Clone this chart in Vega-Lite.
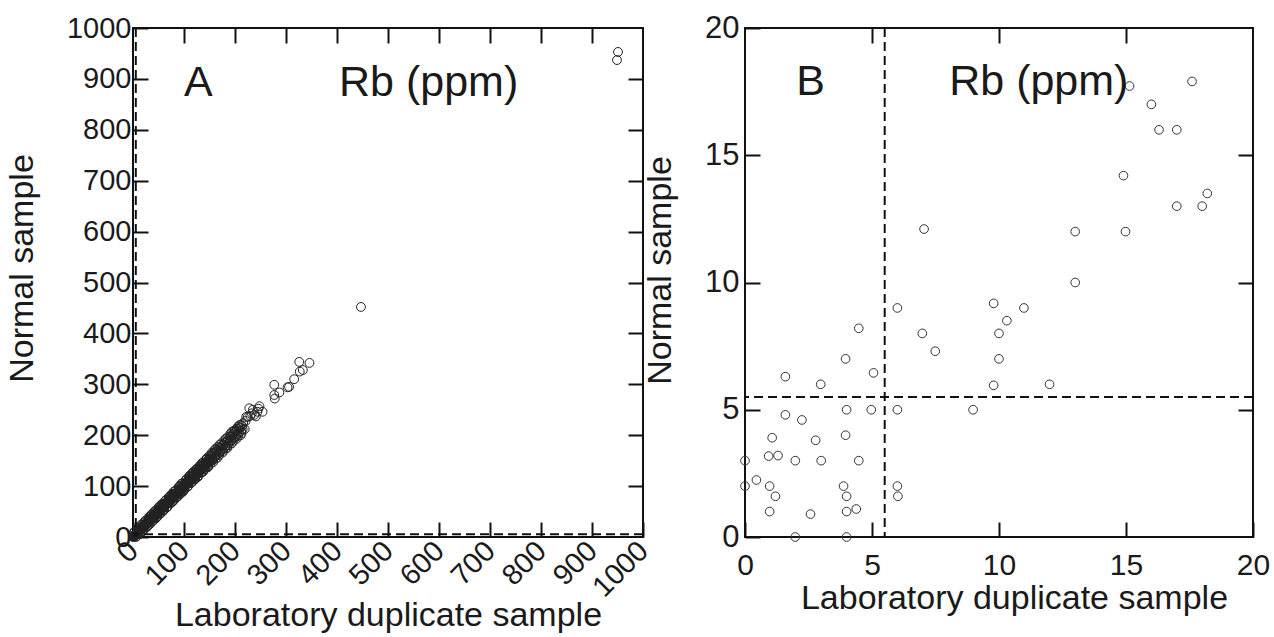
{
  "$schema": "https://vega.github.io/schema/vega-lite/v6.json",
  "background": "white",
  "padding": {"left": 4, "top": 11, "right": 5, "bottom": 2},
  "spacing": 102,
  "bounds": "flush",
  "config": {
    "view": {"stroke": "#111", "strokeWidth": 2},
    "font": "Liberation Sans",
    "axis": {
      "domain": false, "grid": false, "tickColor": "#111", "tickWidth": 2, "tickSize": -15,
      "labelFont": "Liberation Sans", "titleFont": "Liberation Sans", "labelColor": "#1a1a1a", "titleColor": "#1a1a1a",
      "titleFontWeight": "normal", "labelFontSize": 29, "titleFontSize": 34, "labelFlush": false, "labelOverlap": false, "labelBound": false, "format": "d"
    }
  },
  "datasets": {
    "a": [
      {"lab":0,"norm":0},{"lab":0.5,"norm":1},{"lab":1,"norm":0.5},{"lab":1.5,"norm":2},{"lab":2,"norm":1.5},{"lab":2.5,"norm":3},{"lab":3,"norm":2.5},{"lab":3.5,"norm":4},{"lab":4,"norm":3},{"lab":5,"norm":5.5},{"lab":5,"norm":4},{"lab":6,"norm":6.5},{"lab":6.5,"norm":5},{"lab":7,"norm":8},{"lab":8,"norm":7},{"lab":8.5,"norm":9},{"lab":9,"norm":10},{"lab":10,"norm":9},{"lab":10,"norm":11.5},{"lab":11,"norm":10},{"lab":12,"norm":13},{"lab":12.5,"norm":11},{"lab":13,"norm":14},{"lab":14,"norm":13},{"lab":15,"norm":16},{"lab":15.5,"norm":14},{"lab":16,"norm":17},{"lab":17,"norm":15.5},{"lab":18,"norm":19},{"lab":18.5,"norm":17},{"lab":19,"norm":20.5},{"lab":20,"norm":18.5},{"lab":21,"norm":22},{"lab":22,"norm":21},{"lab":23,"norm":24.5},{"lab":23.5,"norm":22},{"lab":24,"norm":25},{"lab":25,"norm":23.5},{"lab":26,"norm":27.5},{"lab":27,"norm":25.5},{"lab":28,"norm":29},{"lab":29,"norm":27.5},{"lab":30,"norm":31.5},{"lab":31,"norm":29},
      {"lab":32,"norm":33},{"lab":33,"norm":35.5},{"lab":34,"norm":32},{"lab":35,"norm":37},{"lab":36,"norm":34},{"lab":37,"norm":39},{"lab":38,"norm":36.5},{"lab":39,"norm":41},{"lab":40,"norm":38},{"lab":41,"norm":43},{"lab":42,"norm":40},{"lab":43,"norm":44},{"lab":44,"norm":46.5},{"lab":45,"norm":43},{"lab":46,"norm":48},{"lab":47,"norm":45},{"lab":48,"norm":50.5},{"lab":49,"norm":47},{"lab":50,"norm":52},{"lab":51,"norm":49},{"lab":52,"norm":54},{"lab":53,"norm":51},{"lab":54,"norm":57},{"lab":55,"norm":53},{"lab":56,"norm":58},{"lab":57,"norm":55},{"lab":58,"norm":61},{"lab":59,"norm":57},{"lab":60,"norm":62},{"lab":61,"norm":59},{"lab":62,"norm":65},{"lab":63,"norm":61},{"lab":64,"norm":66},{"lab":65,"norm":63},{"lab":66,"norm":69},{"lab":67,"norm":65},{"lab":68,"norm":70},{"lab":69,"norm":67},{"lab":70,"norm":73},{"lab":71,"norm":69},{"lab":72,"norm":74},{"lab":73,"norm":71},{"lab":74,"norm":77},{"lab":75,"norm":73},{"lab":76,"norm":78},{"lab":77,"norm":75},{"lab":78,"norm":81},{"lab":79,"norm":77},{"lab":80,"norm":82},{"lab":81,"norm":80},{"lab":82,"norm":85},{"lab":83,"norm":81},{"lab":84,"norm":86},{"lab":85,"norm":83},{"lab":86,"norm":89},{"lab":87,"norm":85},{"lab":88,"norm":90},{"lab":89,"norm":87},{"lab":90,"norm":93},{"lab":91,"norm":89},{"lab":92,"norm":94},{"lab":93,"norm":91},{"lab":94,"norm":97},{"lab":95,"norm":93},{"lab":96,"norm":98},{"lab":97,"norm":95},{"lab":98,"norm":101},{"lab":99,"norm":97},{"lab":100,"norm":102},{"lab":101,"norm":99},{"lab":102,"norm":105},{"lab":103,"norm":101},{"lab":104,"norm":107},{"lab":105,"norm":103},{"lab":106,"norm":109},{"lab":107,"norm":104},{"lab":108,"norm":111},{"lab":109,"norm":107},{"lab":110,"norm":113},{"lab":111,"norm":109},{"lab":112,"norm":114},{"lab":113,"norm":111},{"lab":114,"norm":118},{"lab":115,"norm":113},{"lab":116,"norm":119},{"lab":117,"norm":115},{"lab":118,"norm":122},{"lab":119,"norm":117},{"lab":120,"norm":123},{"lab":121,"norm":119},{"lab":122,"norm":126},{"lab":123,"norm":121},{"lab":124,"norm":127},{"lab":125,"norm":122},{"lab":126,"norm":130},{"lab":127,"norm":125},{"lab":128,"norm":131},{"lab":129,"norm":127},{"lab":130,"norm":134},{"lab":131,"norm":129},{"lab":132,"norm":135},{"lab":133,"norm":131},{"lab":134,"norm":138},{"lab":135,"norm":133},{"lab":136,"norm":140},{"lab":137,"norm":135},{"lab":138,"norm":141},{"lab":139,"norm":137},{"lab":140,"norm":144},{"lab":141,"norm":139},{"lab":142,"norm":145},{"lab":143,"norm":141},{"lab":144,"norm":148},{"lab":145,"norm":143},{"lab":146,"norm":150},{"lab":147,"norm":145},{"lab":148,"norm":152},{"lab":149,"norm":147},{"lab":150,"norm":154},{"lab":151,"norm":149},
      {"lab":20,"norm":27},{"lab":40,"norm":48},{"lab":55,"norm":63},{"lab":70,"norm":78},{"lab":90,"norm":99},{"lab":110,"norm":119},{"lab":60,"norm":53},{"lab":85,"norm":78},{"lab":100,"norm":93},{"lab":120,"norm":113},{"lab":140,"norm":133},{"lab":130,"norm":139},{"lab":115,"norm":124},
      {"lab":10,"norm":17},{"lab":15,"norm":9},{"lab":25,"norm":32},{"lab":30,"norm":23},{"lab":35,"norm":43},{"lab":45,"norm":37},{"lab":50,"norm":58},{"lab":52,"norm":45},{"lab":65,"norm":73},{"lab":66,"norm":58},{"lab":75,"norm":83},{"lab":78,"norm":70},{"lab":80,"norm":89},{"lab":92,"norm":84},{"lab":95,"norm":105},{"lab":98,"norm":89},{"lab":105,"norm":114},{"lab":108,"norm":100},{"lab":118,"norm":128},{"lab":122,"norm":114},{"lab":125,"norm":134},{"lab":128,"norm":120},{"lab":135,"norm":145},{"lab":138,"norm":130},{"lab":145,"norm":155},{"lab":148,"norm":139},{"lab":155,"norm":166},{"lab":157,"norm":147},{"lab":162,"norm":173},{"lab":166,"norm":156},{"lab":170,"norm":181},{"lab":176,"norm":166},{"lab":182,"norm":193},{"lab":185,"norm":175},{"lab":191,"norm":203},{"lab":194,"norm":184},{"lab":197,"norm":208},{"lab":203,"norm":193},{"lab":206,"norm":217},{"lab":211,"norm":200},
      {"lab":3,"norm":9},{"lab":8,"norm":2},{"lab":12,"norm":19},{"lab":18,"norm":11},{"lab":22,"norm":29},{"lab":28,"norm":21},{"lab":33,"norm":40},{"lab":38,"norm":31},{"lab":43,"norm":51},{"lab":48,"norm":41},{"lab":53,"norm":61},{"lab":58,"norm":50},{"lab":63,"norm":71},{"lab":68,"norm":60},{"lab":73,"norm":81},{"lab":77,"norm":69},{"lab":83,"norm":91},{"lab":88,"norm":80},{"lab":93,"norm":101},{"lab":97,"norm":90},{"lab":103,"norm":111},{"lab":107,"norm":99},{"lab":112,"norm":121},{"lab":117,"norm":109},{"lab":123,"norm":132},{"lab":127,"norm":118},{"lab":133,"norm":142},{"lab":137,"norm":128},{"lab":143,"norm":152},{"lab":147,"norm":137},
      {"lab":2,"norm":10},{"lab":6,"norm":0},{"lab":9,"norm":16},{"lab":13,"norm":6},{"lab":16,"norm":24},{"lab":20,"norm":12},{"lab":24,"norm":32},{"lab":27,"norm":19},{"lab":31,"norm":39},{"lab":34,"norm":26},{"lab":37,"norm":45},{"lab":41,"norm":33},{"lab":44,"norm":52},{"lab":47,"norm":39},{"lab":51,"norm":59},{"lab":54,"norm":46},{"lab":57,"norm":65},{"lab":61,"norm":53},{"lab":64,"norm":72},{"lab":67,"norm":59},{"lab":71,"norm":79},{"lab":74,"norm":66},{"lab":77,"norm":85},{"lab":81,"norm":73},{"lab":84,"norm":92},{"lab":87,"norm":79},{"lab":91,"norm":99},{"lab":94,"norm":86},{"lab":97,"norm":105},{"lab":101,"norm":93},{"lab":104,"norm":112},{"lab":107,"norm":99},{"lab":111,"norm":119},{"lab":114,"norm":106},{"lab":117,"norm":125},{"lab":121,"norm":113},{"lab":124,"norm":132},{"lab":127,"norm":119},{"lab":131,"norm":139},{"lab":134,"norm":126},{"lab":137,"norm":146},{"lab":141,"norm":133},{"lab":144,"norm":153},{"lab":147,"norm":140},{"lab":150,"norm":160},{"lab":152,"norm":144},
      {"lab":154,"norm":163},{"lab":157,"norm":151},{"lab":160,"norm":171},{"lab":162,"norm":154},{"lab":166,"norm":177},{"lab":169,"norm":161},{"lab":173,"norm":184},{"lab":176,"norm":169},{"lab":179,"norm":190},{"lab":182,"norm":174},{"lab":185,"norm":196},{"lab":188,"norm":180},{"lab":191,"norm":198},{"lab":194,"norm":207},{"lab":197,"norm":189},{"lab":200,"norm":210},{"lab":203,"norm":213},{"lab":206,"norm":198},{"lab":209,"norm":220},{"lab":213,"norm":204},{"lab":216,"norm":224},{"lab":219,"norm":212},{"lab":221,"norm":228},{"lab":230,"norm":238},{"lab":235,"norm":250},{"lab":241,"norm":237},{"lab":246,"norm":252},
      {"lab":152,"norm":158},{"lab":153,"norm":150},{"lab":155,"norm":160},{"lab":156,"norm":153},{"lab":158,"norm":163},{"lab":159,"norm":156},{"lab":160,"norm":166},{"lab":161,"norm":158},{"lab":163,"norm":168},{"lab":164,"norm":161},{"lab":165,"norm":170},{"lab":167,"norm":164},{"lab":168,"norm":173},{"lab":170,"norm":167},{"lab":171,"norm":176},{"lab":172,"norm":169},{"lab":174,"norm":179},{"lab":175,"norm":172},{"lab":177,"norm":181},{"lab":178,"norm":175},{"lab":180,"norm":185},{"lab":181,"norm":178},{"lab":183,"norm":188},{"lab":184,"norm":180},{"lab":186,"norm":190},{"lab":187,"norm":184},{"lab":189,"norm":194},{"lab":190,"norm":187},{"lab":192,"norm":197},{"lab":193,"norm":190},{"lab":195,"norm":200},{"lab":196,"norm":193},{"lab":198,"norm":204},{"lab":199,"norm":196},{"lab":201,"norm":207},{"lab":202,"norm":199},{"lab":204,"norm":209},{"lab":205,"norm":202},{"lab":207,"norm":212},{"lab":208,"norm":205},{"lab":210,"norm":215},{"lab":212,"norm":208},{"lab":214,"norm":218},{"lab":215,"norm":212},
      {"lab":212,"norm":220},{"lab":222,"norm":236},{"lab":225,"norm":236},{"lab":228,"norm":253},{"lab":233,"norm":243},{"lab":238,"norm":240},{"lab":244,"norm":246},{"lab":248,"norm":257},{"lab":254,"norm":246},{"lab":277,"norm":299},{"lab":277,"norm":279},{"lab":278,"norm":272},{"lab":287,"norm":284},{"lab":303,"norm":294},{"lab":306,"norm":295},{"lab":316,"norm":310},{"lab":326,"norm":344},{"lab":327,"norm":325},{"lab":333,"norm":328},{"lab":346,"norm":342},{"lab":447,"norm":452},{"lab":951,"norm":953},{"lab":949,"norm":937}
    ],
    "b": [
      {"lab":0,"norm":3.0},{"lab":0,"norm":2.0},{"lab":0.45,"norm":2.24},{"lab":0.97,"norm":2.0},{"lab":1.2,"norm":1.6},{"lab":0.97,"norm":1.0},{"lab":0.93,"norm":3.18},{"lab":1.3,"norm":3.2},{"lab":1.07,"norm":3.9},{"lab":1.59,"norm":4.8},{"lab":2.24,"norm":4.6},{"lab":1.59,"norm":6.3},{"lab":2.98,"norm":6.0},{"lab":1.98,"norm":3.0},{"lab":2.78,"norm":3.8},{"lab":3.0,"norm":3.0},{"lab":2.58,"norm":0.9},{"lab":1.98,"norm":0},{"lab":4.0,"norm":0},{"lab":4.0,"norm":1.0},{"lab":4.38,"norm":1.1},{"lab":4.0,"norm":1.6},{"lab":3.88,"norm":2.0},{"lab":4.48,"norm":3.0},{"lab":3.96,"norm":4.0},{"lab":4.0,"norm":5.0},{"lab":4.97,"norm":5.0},{"lab":6.0,"norm":5.0},{"lab":8.98,"norm":5.0},{"lab":3.96,"norm":7.0},{"lab":5.06,"norm":6.45},{"lab":4.48,"norm":8.2},{"lab":6.0,"norm":9.0},{"lab":6.98,"norm":8.0},{"lab":7.49,"norm":7.3},{"lab":6.0,"norm":2.0},{"lab":6.02,"norm":1.6},{"lab":7.05,"norm":12.1},
      {"lab":9.79,"norm":9.18},{"lab":10.98,"norm":9.0},{"lab":10.31,"norm":8.5},{"lab":10.0,"norm":8.0},{"lab":10.0,"norm":7.0},{"lab":9.79,"norm":5.96},{"lab":11.99,"norm":6.0},
      {"lab":15.14,"norm":17.72},{"lab":17.6,"norm":17.9},{"lab":16.0,"norm":17.0},{"lab":16.3,"norm":16.0},{"lab":17.0,"norm":16.0},{"lab":14.9,"norm":14.2},{"lab":18.2,"norm":13.5},{"lab":18.0,"norm":13.0},{"lab":17.0,"norm":13.0},{"lab":13.0,"norm":12.0},{"lab":14.98,"norm":12.0},{"lab":13.0,"norm":10.0}
    ],
    "limit": [{"v": 5.5}]
  },
  "hconcat": [
    {
      "width": 510, "height": 509,
      "layer": [
        {
          "data": {"name": "a"},
          "mark": {"type": "point", "shape": "circle", "size": 78, "strokeWidth": 1, "color": "#222", "opacity": 1},
          "encoding": {
            "x": {"field": "lab", "type": "quantitative", "scale": {"domain": [0, 1000], "nice": false, "zero": false},
              "axis": {"orient": "bottom", "values": [0,100,200,300,400,500,600,700,800,900,1000], "labelAngle": -45, "labelAlign": "right", "labelBaseline": "middle", "labelPadding": 24, "title": "Laboratory duplicate sample", "titleY": 88, "titleBaseline": "alphabetic"}},
            "y": {"field": "norm", "type": "quantitative", "scale": {"domain": [0, 1000], "nice": false, "zero": false},
              "axis": {"orient": "left", "values": [0,100,200,300,400,500,600,700,800,900,1000], "labelPadding": 17, "title": "Normal sample", "titlePadding": 27, "titleY": 240}}
          }
        },
        {
          "data": {"name": "limit"},
          "mark": {"type": "rule", "strokeDash": [9, 5], "strokeWidth": 2, "color": "#111"},
          "encoding": {"x": {"field": "v", "type": "quantitative", "axis": {"orient": "top", "values": [100,200,300,400,500,600,700,800,900], "labels": false, "title": null}}}
        },
        {
          "data": {"name": "limit"},
          "mark": {"type": "rule", "strokeDash": [9, 5], "strokeWidth": 2, "color": "#111"},
          "encoding": {"y": {"field": "v", "type": "quantitative", "axis": {"orient": "right", "values": [100,200,300,400,500,600,700,800,900], "labels": false, "title": null}}}
        },
        {
          "data": {"name": "limit"},
          "mark": {"type": "text", "text": "A", "fontSize": 43, "align": "left", "baseline": "alphabetic", "color": "#1a1a1a"},
          "encoding": {"x": {"datum": 100, "type": "quantitative", "axis": null}, "y": {"datum": 866, "type": "quantitative", "axis": null}}
        },
        {
          "data": {"name": "limit"},
          "mark": {"type": "text", "text": "Rb (ppm)", "fontSize": 43, "align": "left", "baseline": "alphabetic", "color": "#1a1a1a"},
          "encoding": {"x": {"datum": 404, "type": "quantitative", "axis": null}, "y": {"datum": 866, "type": "quantitative", "axis": null}}
        }
      ],
      "resolve": {"axis": {"x": "independent", "y": "independent"}}
    },
    {
      "width": 508, "height": 509,
      "layer": [
        {
          "data": {"name": "b"},
          "mark": {"type": "point", "shape": "circle", "size": 75, "strokeWidth": 1, "color": "#333", "opacity": 1},
          "encoding": {
            "x": {"field": "lab", "type": "quantitative", "scale": {"domain": [0, 20], "nice": false, "zero": false},
              "axis": {"orient": "bottom", "values": [0,5,10,15,20], "labelAngle": 0, "labelAlign": "center", "labelBaseline": "top", "labelPadding": 28, "labelFontSize": 30, "title": "Laboratory duplicate sample", "titleY": 71, "titleBaseline": "alphabetic", "titleX": 269}},
            "y": {"field": "norm", "type": "quantitative", "scale": {"domain": [0, 20], "nice": false, "zero": false},
              "axis": {"orient": "left", "values": [0,5,10,15,20], "labelPadding": 21, "labelFontSize": 31, "title": "Normal sample", "titlePadding": 27, "titleY": 242}}
          }
        },
        {
          "data": {"name": "limit"},
          "mark": {"type": "rule", "strokeDash": [9, 5], "strokeWidth": 2, "color": "#111"},
          "encoding": {"x": {"field": "v", "type": "quantitative", "axis": {"orient": "top", "values": [5,10,15], "labels": false, "title": null}}}
        },
        {
          "data": {"name": "limit"},
          "mark": {"type": "rule", "strokeDash": [9, 5], "strokeWidth": 2, "color": "#111"},
          "encoding": {"y": {"field": "v", "type": "quantitative", "axis": {"orient": "right", "values": [5,10,15], "labels": false, "title": null}}}
        },
        {
          "data": {"name": "limit"},
          "mark": {"type": "text", "text": "B", "fontSize": 43, "align": "left", "baseline": "alphabetic", "color": "#1a1a1a"},
          "encoding": {"x": {"datum": 2.02, "type": "quantitative", "axis": null}, "y": {"datum": 17.37, "type": "quantitative", "axis": null}}
        },
        {
          "data": {"name": "limit"},
          "mark": {"type": "text", "text": "Rb (ppm)", "fontSize": 43, "align": "left", "baseline": "alphabetic", "color": "#1a1a1a"},
          "encoding": {"x": {"datum": 8.04, "type": "quantitative", "axis": null}, "y": {"datum": 17.37, "type": "quantitative", "axis": null}}
        }
      ],
      "resolve": {"axis": {"x": "independent", "y": "independent"}}
    }
  ]
}
